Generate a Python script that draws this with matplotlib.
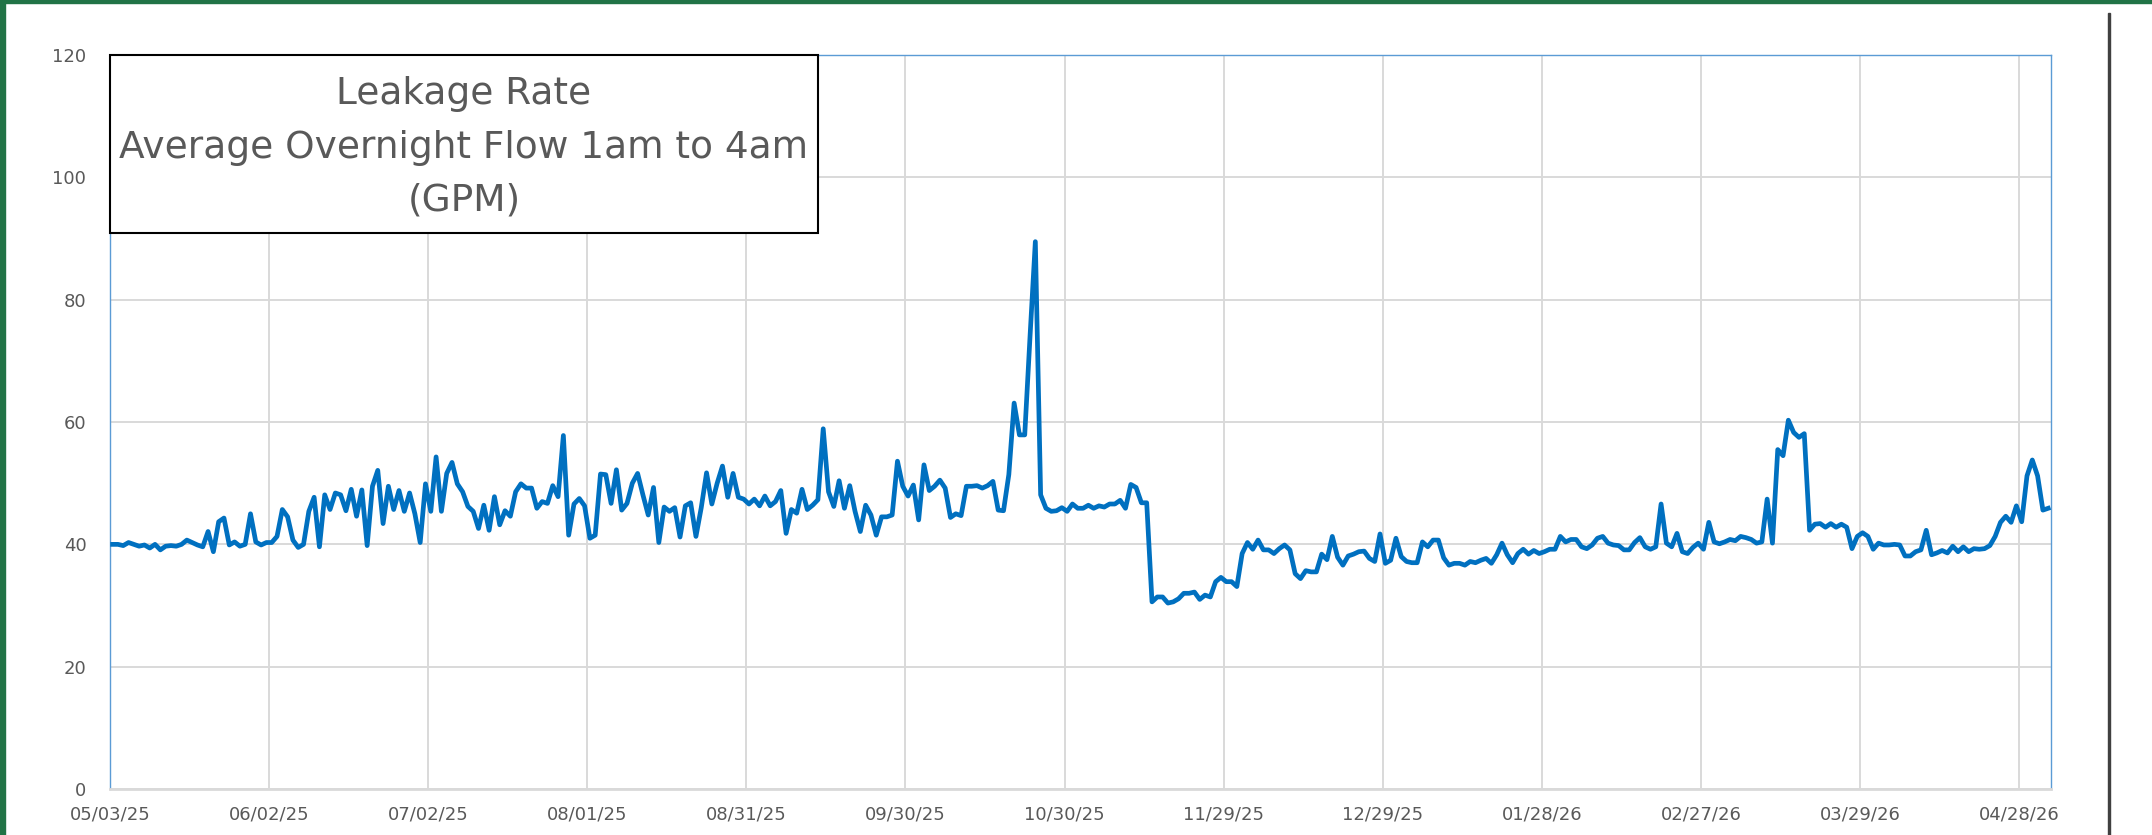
import datetime as dt
import numpy as np
import matplotlib
matplotlib.use("Agg")
import matplotlib.pyplot as plt
import matplotlib.dates as mdates
from matplotlib.patches import Rectangle

# daily average overnight flow (GPM), one value per day starting 05/03/25
start_date = dt.date(2025, 5, 3)

flow_may_jul = [
    40.0, 40.0, 39.8, 40.3, 40.0, 39.7, 39.9, 39.4, 40.0, 39.1,
    39.7, 39.8, 39.7, 40.0, 40.7, 40.3, 39.9, 39.6, 42.1, 38.8,
    43.7, 44.3, 39.9, 40.4, 39.7, 40.0, 45.0, 40.4, 39.9, 40.3,
    40.3, 41.3, 45.7, 44.5, 40.7, 39.5, 40.0, 45.4, 47.7, 39.6,
    48.1, 45.7, 48.4, 48.1, 45.5, 49.0, 44.6, 48.9, 39.8, 49.5,
    52.1, 43.4, 49.5, 45.7, 48.8, 45.4, 48.4, 45.0, 40.3, 49.9,
    45.4, 54.3, 45.4, 51.6, 53.4, 49.9, 48.6, 46.2, 45.4, 42.6,
    46.4, 42.3, 47.8, 43.2, 45.5, 44.6, 48.6, 49.9, 49.2, 49.2,
    45.9, 47.0, 46.7, 49.6, 47.8, 57.8, 41.5, 46.6, 47.5, 46.3,
    41.0, 41.5,
]
flow_aug_oct = [
    51.5, 51.4, 46.7, 52.2, 45.6, 46.7, 50.0, 51.6,
    48.1, 44.8, 49.3, 40.3, 46.1, 45.4, 46.0, 41.2, 46.3, 46.8,
    41.3, 46.0, 51.7, 46.6, 50.0, 52.8, 47.7, 51.6, 47.7, 47.4,
    46.6, 47.4, 46.3, 47.9, 46.3, 47.0, 48.8, 41.8, 45.7, 45.1,
    49.0, 45.7, 46.4, 47.3, 58.9, 48.6, 46.2, 50.4, 45.9, 49.6,
    45.4, 42.1, 46.4, 44.8, 41.5, 44.5, 44.5, 44.8, 53.6, 49.5,
    47.9, 49.7, 44.0, 53.0, 48.8, 49.5, 50.5, 49.2, 44.4, 45.0,
    44.7, 49.5, 49.5, 49.6, 49.2, 49.6, 50.3, 45.6, 45.5, 51.4,
    63.1, 57.9, 57.9, 74.0, 89.5, 48.1, 45.9, 45.4, 45.5, 46.0,
    45.4, 46.6, 45.9, 45.9,
]
flow_nov_jan = [
    46.4, 45.9, 46.3, 46.1, 46.6, 46.6,
    47.2, 45.9, 49.8, 49.3, 46.8, 46.8, 30.6, 31.4, 31.4, 30.4,
    30.6, 31.1, 32.0, 32.0, 32.2, 31.0, 31.7, 31.4, 33.9, 34.6,
    33.9, 33.9, 33.1, 38.5, 40.3, 39.2, 40.7, 39.1, 39.1, 38.5,
    39.3, 39.9, 39.1, 35.2, 34.4, 35.7, 35.5, 35.5, 38.4, 37.5,
    41.3, 37.9, 36.6, 38.1, 38.4, 38.8, 38.9, 37.7, 37.2, 41.7,
    36.9, 37.4, 41.0, 38.0, 37.2, 37.0, 37.0, 40.4, 39.6, 40.7,
    40.7, 37.8, 36.6, 36.9, 36.9, 36.6, 37.2, 37.0, 37.4, 37.7,
    36.9, 38.3, 40.2, 38.3, 37.0, 38.5, 39.2, 38.4, 39.0, 38.5,
    38.8, 39.2, 39.2, 41.3, 40.4,
]
flow_feb_may = [
    40.8, 40.8, 39.6, 39.3, 39.9,
    41.0, 41.3, 40.2, 39.9, 39.8, 39.1, 39.1, 40.3, 41.1, 39.6,
    39.2, 39.6, 46.6, 40.2, 39.6, 41.8, 38.8, 38.5, 39.5, 40.2,
    39.2, 43.6, 40.4, 40.1, 40.4, 40.8, 40.6, 41.3, 41.1, 40.8,
    40.2, 40.4, 47.4, 40.2, 55.5, 54.5, 60.3, 58.3, 57.5, 58.1,
    42.3, 43.3, 43.4, 42.8, 43.4, 42.8, 43.3, 42.8, 39.3, 41.3,
    41.9, 41.3, 39.2, 40.2, 39.9, 39.9, 40.0, 39.9, 38.1, 38.1,
    38.8, 39.1, 42.3, 38.3, 38.6, 39.0, 38.6, 39.7, 38.8, 39.6,
    38.8, 39.3, 39.2, 39.3, 39.8, 41.3, 43.6, 44.6, 43.6, 46.3,
    43.7, 51.2, 53.8, 51.2, 45.6, 45.9,
]

title_lines = ["Leakage Rate", "Average Overnight Flow 1am to 4am", "(GPM)"]
y_ticks = [0, 20, 40, 60, 80, 100, 120]

flow = np.array(flow_may_jul + flow_aug_oct + flow_nov_jan + flow_feb_may)
t0 = np.datetime64(start_date.isoformat())
# each daily point sits in the middle of its day on the date axis
days = t0 + np.arange(len(flow)).astype("timedelta64[D]")
x = mdates.date2num(days) + 0.5
tick_dates = t0 + np.arange(0, 361, 30).astype("timedelta64[D]")

fig = plt.figure(figsize=(21.52, 8.35), dpi=100)
ax = fig.add_axes([0.0511, 0.0551, 0.9019, 0.8789])

ax.plot(x, flow, color="#0070C0", lw=3.4, solid_joinstyle="round", zorder=3)

ax.set_xlim(mdates.date2num(t0), mdates.date2num(t0) + 366)
ax.set_ylim(0, 120)
ax.set_yticks(y_ticks)
ax.set_xticks(mdates.date2num(tick_dates))
ax.xaxis.set_major_formatter(mdates.DateFormatter("%m/%d/%y"))

ax.grid(True, color="#D9D9D9", lw=1.4, zorder=0)
ax.set_axisbelow(True)
ax.tick_params(length=0, labelsize=13, labelcolor="#595959")
ax.tick_params(axis="x", pad=12)
ax.tick_params(axis="y", pad=17)

for side in ["left", "right", "top"]:
    ax.spines[side].set_color("#5B9BD5")
    ax.spines[side].set_linewidth(1.0)
ax.spines["bottom"].set_color("#D9D9D9")
ax.spines["bottom"].set_linewidth(2.0)

# title box in the top-left corner of the plot area
box = Rectangle((0, 0.7575), 0.3648, 0.2425, transform=ax.transAxes,
                facecolor="white", edgecolor="black", lw=1.5, zorder=5,
                clip_on=False)
ax.add_patch(box)
ax.text(0.1824, 0.874, "\n".join(title_lines), transform=ax.transAxes,
        ha="center", va="center", fontsize=27, color="#595959",
        linespacing=1.62, zorder=6)

# worksheet frame around the picture
fig.patches.append(Rectangle((0, 0.996), 1, 0.004, transform=fig.transFigure,
                             color="#217346", zorder=10))
fig.patches.append(Rectangle((0, 0), 0.0023, 1, transform=fig.transFigure,
                             color="#217346", zorder=10))
fig.patches.append(Rectangle((0.9795, 0), 0.001, 0.985, transform=fig.transFigure,
                             color="#404040", zorder=10))

fig.savefig("out.png", dpi=100, facecolor="white")
